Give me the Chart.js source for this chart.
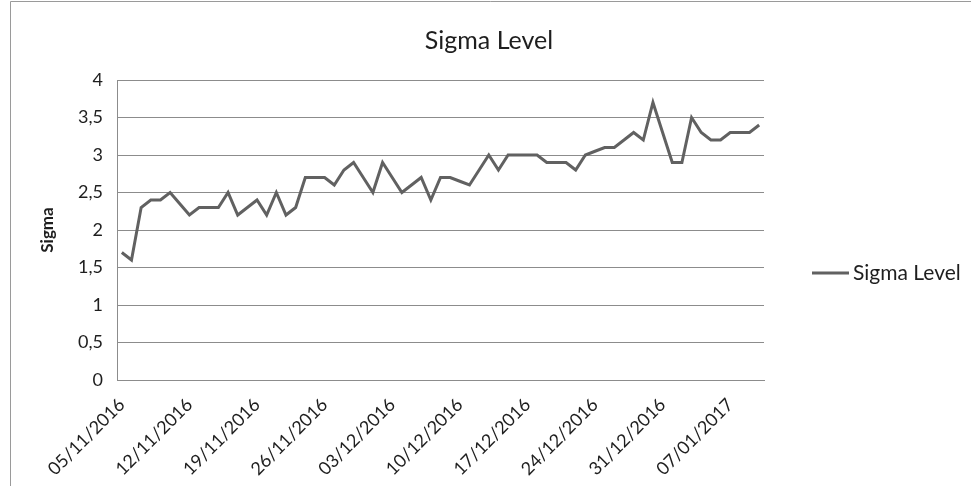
<!DOCTYPE html>
<html>
<head>
<meta charset="utf-8">
<script src="https://cdn.jsdelivr.net/npm/chart.js@4.4.0/dist/chart.umd.min.js"></script>
<style>
html,body{margin:0;padding:0;background:#fff;}
#wrap{width:971px;height:486px;position:relative;overflow:hidden;}
canvas{display:block;}
</style>
</head>
<body>
<div id="wrap"><canvas id="c" width="971" height="486"></canvas></div>
<script>
const dates = [
  '05/11/2016','06/11/2016','07/11/2016','08/11/2016','09/11/2016','10/11/2016','11/11/2016',
  '12/11/2016','13/11/2016','14/11/2016','15/11/2016','16/11/2016','17/11/2016','18/11/2016',
  '19/11/2016','20/11/2016','21/11/2016','22/11/2016','23/11/2016','24/11/2016','25/11/2016',
  '26/11/2016','27/11/2016','28/11/2016','29/11/2016','30/11/2016','01/12/2016','02/12/2016',
  '03/12/2016','04/12/2016','05/12/2016','06/12/2016','07/12/2016','08/12/2016','09/12/2016',
  '10/12/2016','11/12/2016','12/12/2016','13/12/2016','14/12/2016','15/12/2016','16/12/2016',
  '17/12/2016','18/12/2016','19/12/2016','20/12/2016','21/12/2016','22/12/2016','23/12/2016',
  '24/12/2016','25/12/2016','26/12/2016','27/12/2016','28/12/2016','29/12/2016','30/12/2016',
  '31/12/2016','01/01/2017','02/01/2017','03/01/2017','04/01/2017','05/01/2017','06/01/2017',
  '07/01/2017','08/01/2017','09/01/2017','10/01/2017'
];
const sigmaLevel = [
  1.7, 1.6, 2.3, 2.4, 2.4, 2.5, 2.35,
  2.2, 2.3, 2.3, 2.3, 2.5, 2.2, 2.3,
  2.4, 2.2, 2.5, 2.2, 2.3, 2.7, 2.7,
  2.7, 2.6, 2.8, 2.9, 2.7, 2.5, 2.9,
  2.7, 2.5, 2.6, 2.7, 2.4, 2.7, 2.7,
  2.65, 2.6, 2.8, 3.0, 2.8, 3.0, 3.0,
  3.0, 3.0, 2.9, 2.9, 2.9, 2.8, 3.0,
  3.05, 3.1, 3.1, 3.2, 3.3, 3.2, 3.7,
  3.3, 2.9, 2.9, 3.5, 3.3, 3.2, 3.2,
  3.3, 3.3, 3.3, 3.4
];
const xTickLabels = ['05/11/2016','12/11/2016','19/11/2016','26/11/2016','03/12/2016',
  '10/12/2016','17/12/2016','24/12/2016','31/12/2016','07/01/2017'];
const yTickValues = [0, 0.5, 1, 1.5, 2, 2.5, 3, 3.5, 4];

const chartTitle = 'Sigma Level';
const yAxisTitle = 'Sigma';
const seriesName = 'Sigma Level';

const LINE_COLOR = '#616161';
const GRID_COLOR = '#8c8c8c';
const TEXT_COLOR = '#1e1e1e';
const FONT = 'Lato';

const framePlugin = {
  id: 'frameTitleLegend',
  afterDraw(chart) {
    const ctx = chart.ctx;
    ctx.save();
    // outer chart frame
    ctx.strokeStyle = '#9a9a9a';
    ctx.lineWidth = 1;
    ctx.beginPath();
    ctx.moveTo(10.5, 486);
    ctx.lineTo(10.5, 1.5);
    ctx.lineTo(971, 1.5);
    ctx.stroke();
    // title
    ctx.fillStyle = TEXT_COLOR;
    ctx.font = '25px ' + FONT;
    ctx.textAlign = 'center';
    ctx.textBaseline = 'middle';
    ctx.fillText(chartTitle, 489, 41);
    // legend
    const ds = chart.data.datasets[0];
    const ly = 273;
    ctx.strokeStyle = ds.borderColor;
    ctx.lineWidth = ds.borderWidth;
    ctx.beginPath();
    ctx.moveTo(812, ly);
    ctx.lineTo(849, ly);
    ctx.stroke();
    ctx.font = '21px ' + FONT;
    ctx.textAlign = 'left';
    ctx.fillText(ds.label, 853, ly);
    ctx.restore();
  }
};

new Chart(document.getElementById('c').getContext('2d'), {
  type: 'line',
  data: {
    labels: dates,
    datasets: [{
      label: seriesName,
      data: sigmaLevel,
      borderColor: LINE_COLOR,
      backgroundColor: LINE_COLOR,
      borderWidth: 3,
      pointRadius: 0,
      tension: 0,
      fill: false
    }]
  },
  options: {
    responsive: false,
    animation: false,
    layout: { padding: { left: 0, right: 207, top: 80, bottom: 0 } },
    plugins: {
      legend: { display: false },
      tooltip: { enabled: false },
      title: { display: false }
    },
    scales: {
      x: {
        type: 'category',
        offset: true,
        grid: { display: false, drawTicks: false },
        border: { display: true, color: GRID_COLOR, width: 1 },
        ticks: {
          autoSkip: false,
          maxRotation: 45,
          minRotation: 45,
          padding: 14,
          color: TEXT_COLOR,
          font: { family: FONT, size: 18 },
          callback: function (v) {
            const l = this.getLabelForValue(v);
            return xTickLabels.includes(l) ? l : '';
          }
        },
        afterFit: (s) => { s.height = 106; }
      },
      y: {
        min: 0,
        max: 4,
        afterBuildTicks: (s) => { s.ticks = yTickValues.map(v => ({ value: v })); },
        grid: { color: GRID_COLOR, drawTicks: false },
        border: { display: true, color: GRID_COLOR, width: 1 },
        ticks: {
          padding: 14,
          color: TEXT_COLOR,
          font: { family: FONT, size: 18 },
          callback: (v) => String(v).replace('.', ',')
        },
        title: {
          display: true,
          text: yAxisTitle,
          color: TEXT_COLOR,
          font: { family: FONT, size: 17, weight: 'bold' },
          padding: { top: 37, bottom: 0 }
        },
        afterFit: (s) => { s.width = 117; }
      }
    }
  },
  plugins: [framePlugin]
});
</script>
</body>
</html>
